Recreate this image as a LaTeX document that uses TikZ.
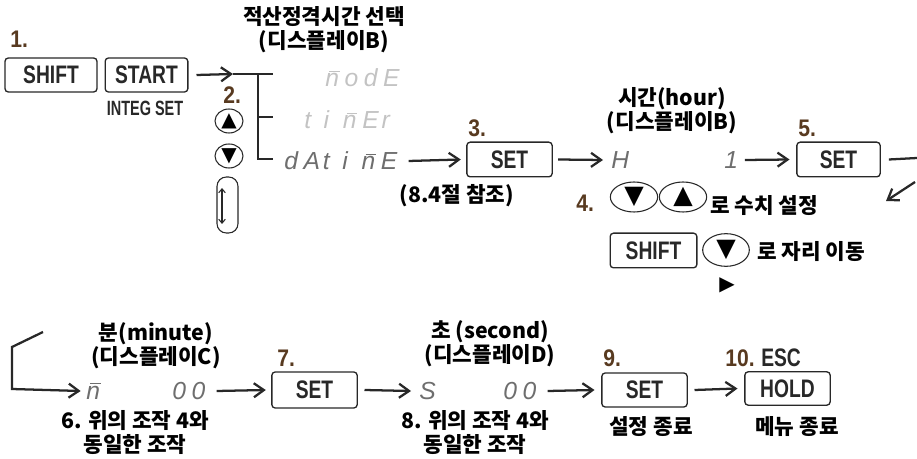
\documentclass[tikz,border=0pt]{standalone}
\usepackage{fontspec}
\setmainfont{Noto Sans CJK KR}
\newfontfamily\keyfont[FakeStretch=0.76]{Liberation Sans}
\newfontfamily\integfont[FakeStretch=0.7]{Liberation Sans}
\newfontfamily\numfont[FakeStretch=0.88]{Liberation Sans}
\newfontfamily\segfont{Liberation Sans}
\newfontfamily\symfont{DejaVu Sans}
\usetikzlibrary{shapes.geometric,arrows.meta}
\definecolor{stepcol}{RGB}{88,58,32}
\definecolor{ink}{RGB}{40,40,40}
\definecolor{segdark}{RGB}{110,110,110}
\definecolor{seglight}{RGB}{195,195,195}
\newcommand\segM{\leavevmode\rlap{\kern0.16em\raisebox{0.6em}{\rule{0.42em}{0.06em}}}n}
\newcommand\cell[1]{\makebox[14.5pt][l]{#1}}
\tikzset{
  keybox/.style={draw=ink, line width=1pt, rounded corners=2.5pt, minimum width=64pt, minimum height=26pt, inner sep=0pt, font=\keyfont\bfseries\fontsize{19}{19}\selectfont, text=ink},
  lbl/.style={font=\bfseries\fontsize{16}{18}\selectfont, align=center, inner sep=0pt, text=black},
  stepn/.style={font=\numfont\bfseries\fontsize{18}{18}\selectfont, text=stepcol, anchor=west, inner sep=0pt},
  seg/.style={font=\segfont\itshape\fontsize{18.5}{18.5}\selectfont, anchor=west, inner sep=0pt},
  btn/.style={draw=ink, ellipse, line width=0.8pt, inner sep=0pt, font=\symfont\fontsize{15}{15}\selectfont, text=black},
  arr/.style={-{Straight Barb[length=7.5pt,width=10.5pt]}, line width=1.7pt, draw=ink},
  plain/.style={line width=1.7pt, draw=ink},
}
\begin{document}
\begin{tikzpicture}[x=0.75pt,y=-0.75pt]
\useasboundingbox (0,0) rectangle (917,459);
% ---- top row ----
\node[stepn] (s1) at (10,39) {1.};
\node[keybox, minimum width=69pt, minimum height=25.5pt] (shiftA) at (51,75) {SHIFT};
\node[keybox, minimum width=62pt, minimum height=25.5pt] (start) at (146.5,75) {START};
\node[font=\integfont\bfseries\fontsize{15.5}{15.5}\selectfont, text=ink, inner sep=0pt] (integ) at (145,108) {INTEG SET};
\coordinate (a1h) at (233,74);
\coordinate (bv1) at (258,74);
\coordinate (bt1) at (273,74);
\coordinate (bv2) at (258,117);
\coordinate (bt2) at (273,117);
\coordinate (bv3) at (258,159);
\coordinate (bt3) at (273,159);
\draw[arr] ([xshift=6pt]start.east) -- (a1h);
\draw[plain] (a1h) -- (bt1);
\draw[plain] (bv1) -- (bv3) -- (bt3);
\draw[plain] (bv2) -- (bt2);
\node[lbl] (title1) at (324,30) {적산정격시간 선택\\(디스플레이B)};
\node[seg, text=seglight] (mode) at (325,78) {\cell{\segM}\cell{o}\cell{d}\cell{E}};
\node[seg, text=seglight] (timer) at (304,120) {\cell{t}\cell{i}\cell{\segM}\cell{E}\cell{r}};
\node[seg, text=segdark] (datime) at (284,161) {\cell{d}\cell{A}\cell{t}\cell{i}\cell{\segM}\cell{E}};
\node[stepn] (s2) at (223,95) {2.};
\node[btn, minimum width=21pt, minimum height=18pt] (up1) at (229,121) {▲};
\node[btn, minimum width=21pt, minimum height=18pt] (dn1) at (229,156) {▼};
\draw[draw=ink, line width=0.8pt, rounded corners=7pt] (217,177) rectangle (238,233);
\coordinate (lpA) at (222,188);
\coordinate (lpB) at (222,224);
\draw[{Straight Barb[length=3pt,width=5pt]}-{Straight Barb[length=3pt,width=5pt]}, line width=0.8pt, draw=ink] (lpA) -- (lpB);
% step 3
\node[stepn] (s3) at (468,128) {3.};
\node[keybox] (set3) at (509.5,159.5) {SET};
\draw[arr] ([xshift=6pt]datime.east) -- ([xshift=-4pt]set3.west);
\node[lbl] (ref84) at (457,196) {(8.4절 참조)};
% hour
\node[lbl] (title2) at (672,111) {시간(hour)\\(디스플레이B)};
\node[seg, text=segdark] (hH) at (611,160) {\cell{H}};
\node[seg, text=segdark] (h1) at (724,160) {1};
\draw[arr] ([xshift=4pt]set3.east) -- ([xshift=-6pt]hH.west);
\node[stepn] (s5) at (798,128) {5.};
\node[keybox, minimum width=62.5pt] (set5) at (838.5,159.5) {SET};
\draw[arr] ([xshift=5pt]h1.east) -- ([xshift=-5pt]set5.west);
\coordinate (exitR) at (917,158);
\draw[plain] ([xshift=6pt]set5.east) -- (exitR);
\coordinate (dg1) at (915,182);
\coordinate (dg2) at (886,201);
\draw[arr] (dg1) -- (dg2);
% step 4
\node[stepn] (s4) at (576,203) {4.};
\node[btn, minimum width=35.5pt, minimum height=22.5pt, font=\symfont\fontsize{19}{19}\selectfont] (dn2) at (634,197) {▼};
\node[btn, minimum width=35.5pt, minimum height=22.5pt, font=\symfont\fontsize{19}{19}\selectfont] (up2) at (683,197) {▲};
\node[lbl, anchor=west] (txt4) at (710,206) {로 수치 설정};
\node[keybox, minimum width=65pt] (shiftB) at (653.5,250.5) {SHIFT};
\node[btn, minimum width=35pt, minimum height=24.5pt, font=\symfont\fontsize{19}{19}\selectfont] (dn3) at (726,250) {▼};
\node[lbl, anchor=west] (txt4b) at (757,252) {로 자리 이동};
\node[font=\symfont\fontsize{15}{15}\selectfont, inner sep=0pt] (play) at (727,285) {▶};
% ---- bottom row ----
\coordinate (p1) at (43,332);
\coordinate (p2) at (12,347);
\coordinate (p3) at (12,389);
\node[lbl] (title3) at (156,346) {분(minute)\\(디스플레이C)};
\node[seg, text=segdark] (mm) at (86,391) {\cell{\segM}};
\node[seg, text=segdark] (mz) at (172,391) {\cell{0}\cell{0}};
\draw[arr] (p1) -- (p2) -- (p3) -- ([xshift=-4pt]mm.west);
\node[stepn] (s7) at (277,358) {7.};
\node[keybox, minimum width=64pt, minimum height=27pt] (set7) at (314.5,390) {SET};
\draw[arr] ([xshift=4pt]mz.east) -- ([xshift=-4pt]set7.west);
\node[lbl] (op6) at (135,433) {6. 위의 조작 4와\\동일한 조작};
\node[lbl] (title4) at (490,344) {초 (second)\\(디스플레이D)};
\node[seg, text=segdark] (ss) at (419,391) {\cell{S}};
\node[seg, text=segdark] (sz) at (503,391) {\cell{0}\cell{0}};
\draw[arr] ([xshift=5pt]set7.east) -- ([xshift=-6pt]ss.west);
\node[lbl] (op8) at (475,433) {8. 위의 조작 4와\\동일한 조작};
\node[stepn] (s9) at (603,358) {9.};
\node[keybox, minimum width=64pt, minimum height=25.5pt] (set9) at (644.5,390) {SET};
\draw[arr] ([xshift=4pt]sz.east) -- ([xshift=-5pt]set9.west);
\node[stepn] (s10) at (725,358) {10.};
\node[font=\keyfont\bfseries\fontsize{19}{19}\selectfont, text=ink, inner sep=0pt, anchor=west] (esc) at (761,358) {ESC};
\node[keybox, minimum width=64pt, minimum height=25pt] (hold) at (787.5,388.5) {HOLD};
\draw[arr] ([xshift=5pt]set9.east) -- ([xshift=-5pt]hold.west);
\node[lbl] (end9) at (651,427) {설정 종료};
\node[lbl] (end10) at (797,427) {메뉴 종료};
\end{tikzpicture}
\end{document}
